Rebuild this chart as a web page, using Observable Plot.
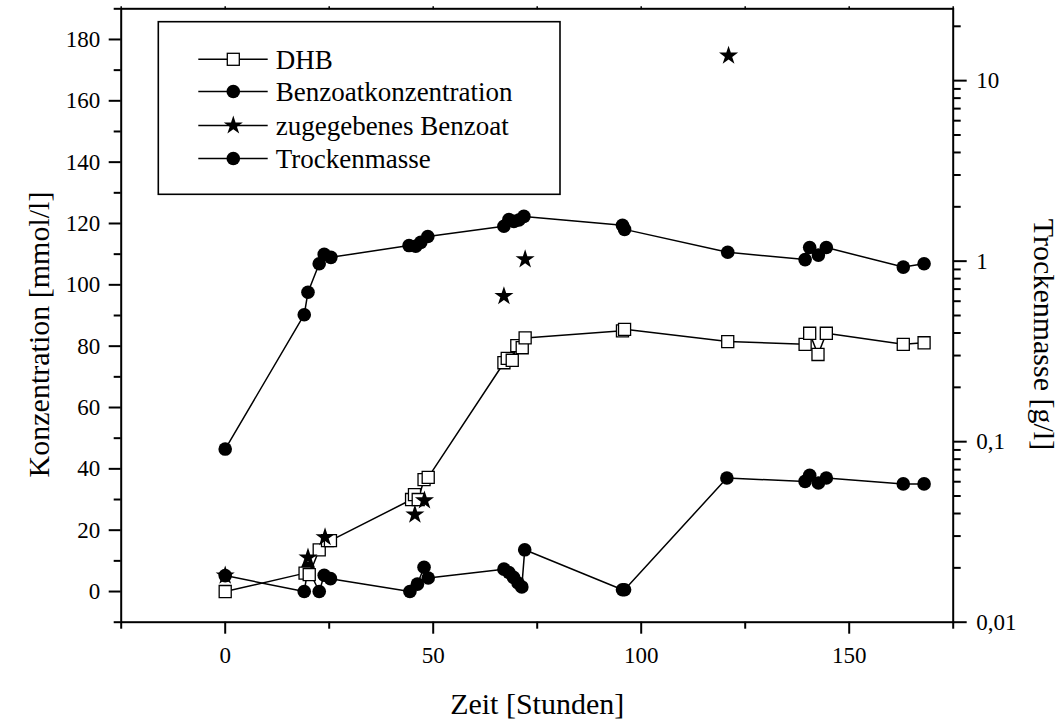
<!DOCTYPE html>
<html>
<head>
<meta charset="utf-8">
<script src="https://cdn.jsdelivr.net/npm/d3@7"></script>
<script src="https://cdn.jsdelivr.net/npm/@observablehq/plot@0.6"></script>
<style>
  html, body { margin: 0; padding: 0; background: #fff; }
  #chart { width: 1061px; height: 720px; }
</style>
</head>
<body>
<div id="chart"></div>
<script>
// ---- data (time in hours) ----
const dhbTime  = [0, 19.2, 20.2, 22.6, 24.6, 25.3, 44.8, 45.5, 46.4, 47.8, 48.8, 67.0, 67.8, 69.0, 70.1, 71.4, 72.1, 95.5, 96.0, 120.8, 139.4, 140.5, 142.5, 144.5, 163.0, 168.0];
const dhbValue = [0, 6.0, 5.5, 13.6, 16.6, 16.6, 30.0, 31.6, 30.0, 36.5, 37.2, 74.6, 76.0, 75.4, 80.2, 79.5, 82.7, 85.0, 85.5, 81.5, 80.6, 84.2, 77.3, 84.2, 80.6, 81.1];

const benzTime  = [0, 19.0, 19.9, 22.6, 23.8, 25.3, 44.4, 46.2, 47.8, 48.8, 67.0, 68.2, 69.3, 70.4, 71.3, 72.0, 95.5, 96.0, 120.6, 139.4, 140.5, 142.6, 144.5, 163.0, 168.0];
const benzValue = [5.2, 0, 7.6, 0, 5.3, 4.2, 0, 2.4, 7.9, 4.4, 7.3, 6.2, 4.6, 2.8, 1.5, 13.6, 0.6, 0.6, 37.0, 35.9, 37.9, 35.4, 37.0, 35.1, 35.1];

const addTime  = [0, 19.9, 24.0, 45.6, 47.9, 67.0, 72.1, 121.0];
const addValue = [5.2, 11.1, 17.7, 25.1, 29.7, 96.3, 108.3, 174.7];

const tmTime  = [0, 19.0, 19.9, 22.6, 23.8, 25.4, 44.2, 45.8, 47.0, 48.7, 67.0, 68.2, 69.4, 70.6, 71.8, 95.5, 96.0, 120.8, 139.4, 140.5, 142.6, 144.5, 163.0, 168.0];
const tmValue = [0.091, 0.505, 0.673, 0.967, 1.09, 1.05, 1.22, 1.21, 1.27, 1.37, 1.56, 1.70, 1.66, 1.69, 1.77, 1.58, 1.50, 1.12, 1.02, 1.19, 1.08, 1.19, 0.927, 0.968];

// axis ticks
const xMajor = [0, 50, 100, 150];
const xMinor = [-25, 25, 75, 125, 175];
const yMajor = [0, 20, 40, 60, 80, 100, 120, 140, 160, 180];
const yMinor = [-10, 10, 30, 50, 70, 90, 110, 130, 150, 170, 190];
const rMajor = [0.01, 0.1, 1, 10];
const rMajorLabels = ["0,01", "0,1", "1", "10"];
const rMinor = [0.02,0.03,0.04,0.05,0.06,0.07,0.08,0.09,0.2,0.3,0.4,0.5,0.6,0.7,0.8,0.9,2,3,4,5,6,7,8,9,20];

const seriesNames = ["DHB", "Benzoatkonzentration", "zugegebenes Benzoat", "Trockenmasse"];

// left domain and right (log) domain share the same vertical extent
const leftDomain = [-10, 190];
const rightDomain = [0.01, 25];
const lr0 = Math.log10(rightDomain[0]), lr1 = Math.log10(rightDomain[1]);
const toLeft = m => leftDomain[0] + (Math.log10(m) - lr0) / (lr1 - lr0) * (leftDomain[1] - leftDomain[0]);

const dhb = dhbTime.map((t, i) => ({t, v: dhbValue[i]}));
const benz = benzTime.map((t, i) => ({t, v: benzValue[i]}));
const added = addTime.map((t, i) => ({t, v: addValue[i]}));
const tm = tmTime.map((t, i) => ({t, v: toLeft(tmValue[i])}));

const FONT = "'Liberation Serif', 'Times New Roman', Times, serif";

const plot = Plot.plot({
  width: 1061,
  height: 720,
  marginLeft: 120.7,
  marginRight: 108.3,
  marginTop: 8.3,
  marginBottom: 98.3,
  x: {domain: [-25, 175]},
  y: {domain: leftDomain},
  style: {fontFamily: FONT, fontSize: "23px", color: "black", background: "white", overflow: "visible"},
  marks: [
    // axes
    Plot.axisX({ticks: xMajor, tickSize: 12, tickPadding: 12, strokeWidth: 2, label: null}),
    Plot.axisX({ticks: xMinor, tickSize: 7, strokeWidth: 2, tickFormat: () => "", label: null}),
    Plot.axisX({anchor: "top", ticks: xMajor.concat(xMinor), tickSize: 3, strokeWidth: 1.5, tickFormat: () => "", label: null}),
    Plot.axisY({ticks: yMajor, tickSize: 12, tickPadding: 9, strokeWidth: 2, label: null}),
    Plot.axisY({ticks: yMinor, tickSize: 7, strokeWidth: 2, tickFormat: () => "", label: null}),
    Plot.axisY({anchor: "right", ticks: rMajor.map(toLeft), tickSize: 13, tickPadding: 10, strokeWidth: 2,
      tickFormat: d => rMajorLabels[d3.minIndex(rMajor, m => Math.abs(toLeft(m) - d))], label: null}),
    Plot.axisY({anchor: "right", ticks: rMinor.map(toLeft), tickSize: 7, strokeWidth: 2, tickFormat: () => "", label: null}),
    Plot.frame({strokeWidth: 2}),
    // axis titles
    Plot.text(["Zeit [Stunden]"], {frameAnchor: "bottom", dy: 81.7, textAnchor: "middle", lineAnchor: "middle", fontSize: 30, fontFamily: FONT}),
    Plot.text(["Konzentration [mmol/l]"], {frameAnchor: "left", dx: -82, dy: 19, textAnchor: "middle", lineAnchor: "middle", rotate: -90, fontSize: 30, fontFamily: FONT}),
    Plot.text(["Trockenmasse [g/l]"], {frameAnchor: "right", dx: 90, dy: 19, textAnchor: "middle", lineAnchor: "middle", rotate: 90, fontSize: 30, fontFamily: FONT}),
    // series
    Plot.line(tm, {x: "t", y: "v", stroke: "black", strokeWidth: 1.5}),
    Plot.line(benz, {x: "t", y: "v", stroke: "black", strokeWidth: 1.5}),
    Plot.line(dhb, {x: "t", y: "v", stroke: "black", strokeWidth: 1.5}),
    Plot.dot(tm, {x: "t", y: "v", r: 6.8, fill: "black", stroke: "none"}),
    Plot.dot(benz, {x: "t", y: "v", r: 6.8, fill: "black", stroke: "none"}),
    Plot.dot(dhb, {x: "t", y: "v", symbol: "square", r: 6.8, fill: "white", stroke: "black", strokeWidth: 1.3}),
    Plot.dot(added, {x: "t", y: "v", symbol: "star", r: 6, fill: "black", stroke: "none"})
  ]
});

document.getElementById("chart").appendChild(plot);

// ---- legend box inside the plot area ----
const svg = d3.select(plot);
const lg = svg.append("g").attr("class", "legend").attr("text-anchor", "start");
lg.append("rect").attr("x", 158.3).attr("y", 21.7).attr("width", 401.7).attr("height", 172.6)
  .attr("fill", "white").attr("stroke", "black").attr("stroke-width", 1.6);
const rowY = [59.3, 91.5, 125.5, 158.5];
const symX = 233.3;
const starPath = d3.symbol(d3.symbolStar, Math.PI * 6 * 6)();
seriesNames.forEach((name, i) => {
  const y = rowY[i];
  lg.append("line").attr("x1", 198.3).attr("x2", 267.7).attr("y1", y).attr("y2", y)
    .attr("stroke", "black").attr("stroke-width", 1.5);
  if (i === 0) {
    lg.append("rect").attr("x", symX - 6).attr("y", y - 6).attr("width", 12).attr("height", 12)
      .attr("fill", "white").attr("stroke", "black").attr("stroke-width", 1.3);
  } else if (i === 2) {
    lg.append("path").attr("d", starPath).attr("transform", `translate(${symX},${y})`).attr("fill", "black");
  } else {
    lg.append("circle").attr("cx", symX).attr("cy", y).attr("r", 6.8).attr("fill", "black");
  }
  lg.append("text").attr("x", 275.7).attr("y", y).attr("dy", "0.35em").attr("text-anchor", "start")
    .attr("font-family", FONT).attr("font-size", 27).attr("fill", "black").text(name);
});
</script>
</body>
</html>
